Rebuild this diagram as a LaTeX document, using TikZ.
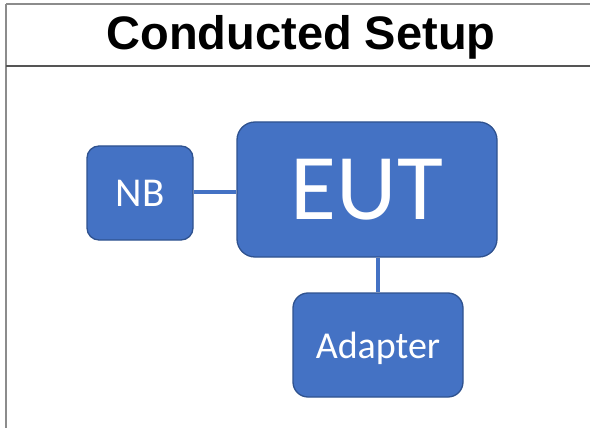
\documentclass[tikz,border=0pt]{standalone}
\usepackage{fontspec}
\setmainfont{Carlito}
\newfontfamily\titlefont{Liberation Sans}
\definecolor{boxfill}{HTML}{4472C4}
\definecolor{boxedge}{HTML}{2F528F}
\definecolor{framegrey}{HTML}{8C8C8C}
\definecolor{sepgrey}{HTML}{555555}
\begin{document}
\begin{tikzpicture}[x=1pt,y=-1pt,
  blockbox/.style={draw=boxedge,line width=1.3pt,fill=boxfill,text=white,
    rounded corners=#1,inner sep=0pt,anchor=center},
  blockbox/.default=12pt,
  link/.style={draw=boxfill,line width=3.5pt}]
\useasboundingbox (0,0) rectangle (590,428);
% frame
\draw[framegrey,line width=1.2pt] (6,4) -- (590,4);
\draw[framegrey,line width=1.2pt] (6,4) -- (6,428);
\draw[sepgrey,line width=2pt] (6,66) -- (590,66);
\node[font=\titlefont\bfseries\fontsize{47}{50}\selectfont,anchor=base] (title) at (301,50) {Conducted Setup};
% boxes
\node[blockbox=12pt,minimum width=106pt,minimum height=94pt,font=\fontsize{41}{44}\selectfont] (nb) at (140,193) {NB};
\node[blockbox=18pt,minimum width=260pt,minimum height=135pt,font=\fontsize{94}{98}\selectfont] (eut) at (367,189.5) {EUT};
\node[blockbox=15pt,minimum width=170pt,minimum height=104pt,text depth=0pt,font=\fontsize{38}{42}\selectfont] (adapter) at (378,345) {Adapter};
% connectors
\draw[link] (nb.east |- 0,192) -- (eut.west |- 0,192);
\draw[link] (eut.south -| 378,0) -- (adapter.north -| 378,0);
\end{tikzpicture}
\end{document}
